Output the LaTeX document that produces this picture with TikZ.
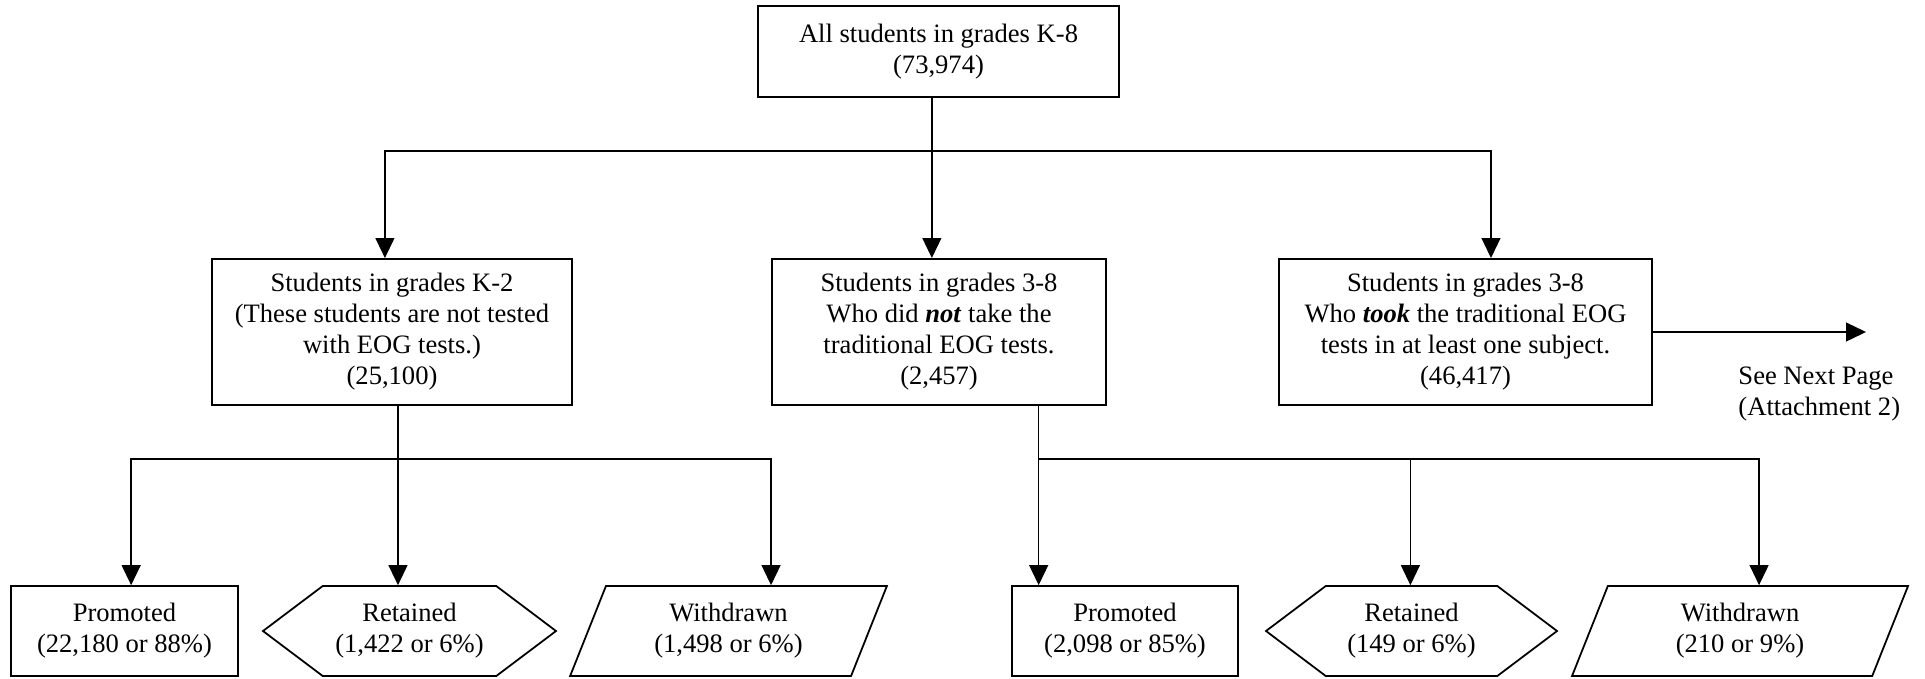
\documentclass[tikz,border=0pt]{standalone}
\usepackage{fontspec}
\setmainfont{Liberation Serif}
\usepackage{tikz}
\usetikzlibrary{arrows.meta,shapes.geometric,shapes.symbols}

\begin{document}
\begin{tikzpicture}[x=0.4515pt, y=-0.4515pt, font=\fontsize{12}{14}\selectfont]
	\tikzstyle{box}=[rectangle, draw=black, line width=0.8pt, inner sep=0pt, align=center]
	\tikzstyle{hexa}=[signal, signal to=east and west, signal pointer angle=74, draw=black, line width=0.8pt, inner sep=0pt, align=center]
	\tikzstyle{para}=[trapezium, trapezium left angle=57, trapezium right angle=123, trapezium stretches body, draw=black, line width=0.8pt, inner sep=0pt, align=center]
	\tikzstyle{connect}=[-{Triangle[width=8.5pt,length=9pt]}, line width=0.7pt]
	\useasboundingbox (0,0) rectangle (1925,678);
	% top level
	\node[box, minimum width=163pt, minimum height=41pt] (all) at (938.5,51.5) {All students in grades K-8\\(73,974)};
	% second level
	\node[box, minimum width=162.5pt, minimum height=66pt] (kt) at (392,332) {Students in grades K-2\\(These students are not tested\\with EOG tests.)\\(25,100)};
	\node[box, minimum width=151pt, minimum height=66pt] (nt) at (939,332) {Students in grades 3-8\\Who did \textbf{\textit{not}} take the\\traditional EOG tests.\\(2,457)};
	\node[box, minimum width=168.5pt, minimum height=66pt] (tk) at (1465.5,332) {Students in grades 3-8\\Who \textbf{\textit{took}} the traditional EOG\\tests in at least one subject.\\(46,417)};
	\node[anchor=west, align=left, inner sep=0pt] (np) at (1738,394) {See Next Page\\(Attachment 2)};
	\coordinate (nx) at (1866,332);
	% bottom level
	\node[box, minimum width=102.5pt, minimum height=40.6pt] (p1) at (124.5,631) {Promoted\\(22,180 or 88\%)};
	\node[hexa, minimum width=132.3pt, minimum height=40.6pt] (r1) at (409.5,631) {Retained\\(1,422 or 6\%)};
	\node[para, minimum width=143pt, minimum height=40.6pt] (w1) at (728.5,631) {Withdrawn\\(1,498 or 6\%)};
	\node[box, minimum width=102pt, minimum height=40.6pt] (p2) at (1125,631) {Promoted\\(2,098 or 85\%)};
	\node[hexa, minimum width=131.4pt, minimum height=40.6pt] (r2) at (1411.5,631) {Retained\\(149 or 6\%)};
	\node[para, minimum width=151.7pt, minimum height=40.6pt] (w2) at (1740,631) {Withdrawn\\(210 or 9\%)};

	\coordinate (hi) at (0,151);
	\coordinate (lo) at (0,459);
	\coordinate (ta) at ([xshift=-3pt]all.south);
	\coordinate (ka) at ([xshift=2.7pt]kt.south);
	\coordinate (na) at ([xshift=45pt]nt.south);

	\draw[connect] (ta) -- (ta |- hi) -| ([xshift=-3.2pt]kt.north);
	\draw[connect] (ta) -- (ta |- nt.north);
	\draw[connect] (ta |- hi) -| ([xshift=11.5pt]tk.north);
	\draw[connect] (tk.east |- nx) -- (nx);

	\draw[connect] (ka) -- (ka |- lo) -| ([xshift=3pt]p1.north);
	\draw[connect] (ka) -- (ka |- r1.north);
	\draw[connect] (ka |- lo) -| ([xshift=19.2pt]w1.north);

	\draw[connect] (na) -- (na |- p2.north);
	\draw[connect] (na |- lo) -| ([xshift=-0.5pt]r2.north);
	\draw[connect] (na |- lo) -| ([xshift=8.6pt]w2.north);
\end{tikzpicture}
\end{document}
